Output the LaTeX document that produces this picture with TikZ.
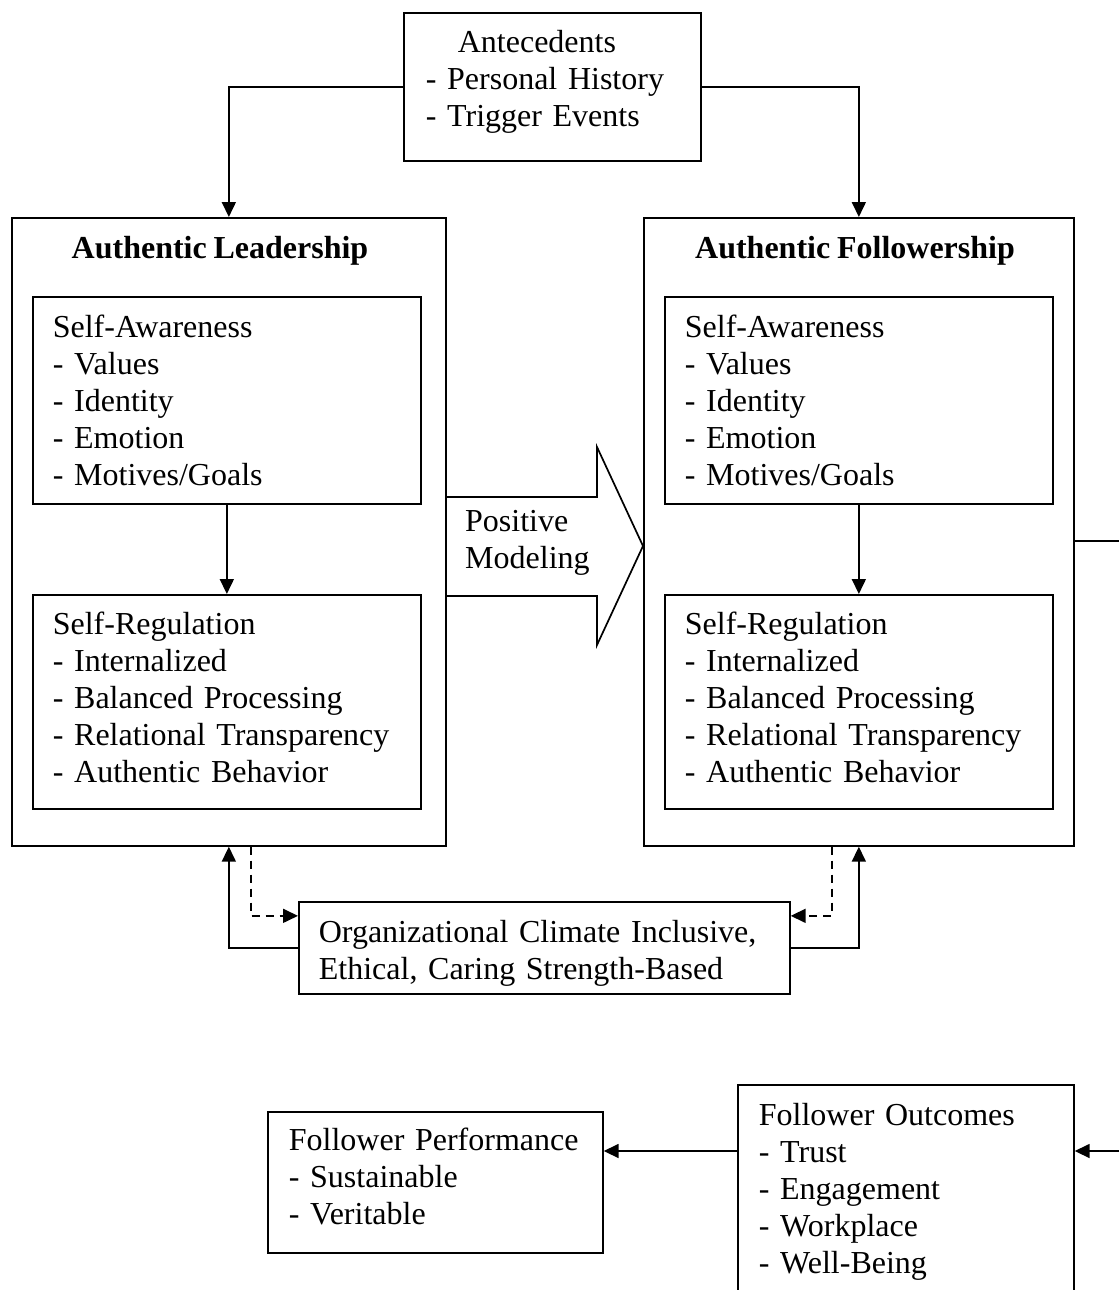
\documentclass[tikz,border=0pt]{standalone}
\usepackage{fontspec}
\setmainfont{Liberation Serif}[WordSpace={0.85,0,0}]
\usetikzlibrary{arrows.meta}
\newcommand{\lowend}[1]{\rule[-#1]{0pt}{1pt}}
\begin{document}
\begin{tikzpicture}[x=1pt,y=-1pt,
  txt/.style={font=\fontsize{32}{37}\selectfont},
  frame/.style={draw,line width=1.7pt,rectangle,anchor=north west,inner ysep=0pt},
  listbox/.style={frame,txt,align=left,inner xsep=#1},
  heading/.style={font=\fontsize{32}{37}\selectfont\bfseries},
  link/.style={line width=1.7pt},
  arr/.style={link,-{Triangle[length=15pt,width=14pt]}},
  dlink/.style={arr,dash pattern=on 8pt off 6pt}]
\useasboundingbox (0,0) rectangle (1119,1290);
\clip (0,0) rectangle (1119,1290);

% antecedents
\node[listbox=22pt,text width=253pt,minimum height=148pt] (ante) at (403,12)
  {\hspace*{32pt}Antecedents\\- Personal History\\- Trigger Events\lowend{16pt}};

% authentic leadership
\node[frame,minimum width=434pt,minimum height=628pt] (lead) at (11,217) {};
\node[heading] (leadT) at (220,251) {Authentic Leadership};
\node[listbox=20pt,text width=348pt,minimum height=207pt] (lsa) at (32,296)
  {Self-Awareness\\- Values\\- Identity\\- Emotion\\- Motives/Goals};
\node[listbox=20pt,text width=348pt,minimum height=214pt] (lsr) at (32,594)
  {Self-Regulation\\- Internalized\\- Balanced Processing\\- Relational Transparency\\- Authentic Behavior\lowend{10pt}};

% authentic followership
\node[frame,minimum width=430pt,minimum height=628pt] (foll) at (643,217) {};
\node[heading] (follT) at (855,251) {Authentic Followership};
\node[listbox=20pt,text width=348pt,minimum height=207pt] (fsa) at (664,296)
  {Self-Awareness\\- Values\\- Identity\\- Emotion\\- Motives/Goals};
\node[listbox=20pt,text width=348pt,minimum height=214pt] (fsr) at (664,594)
  {Self-Regulation\\- Internalized\\- Balanced Processing\\- Relational Transparency\\- Authentic Behavior\lowend{10pt}};

% positive modeling block arrow
\draw[link,line join=miter] (lead.east |- 0,497) -- (597,497) -- (597,447) -- (foll.west |- 0,546)
  -- (597,645) -- (597,596) -- (lead.east |- 0,596);
\node[txt,align=left,anchor=west,inner sep=0pt] (model) at (465,543) {Positive\\Modeling};

% organizational climate
\node[listbox=20pt,text width=451pt,minimum height=92pt] (org) at (298,901)
  {\rule{0pt}{33pt}Organizational Climate Inclusive,\\Ethical, Caring Strength-Based};

% outcomes
\node[listbox=21pt,text width=293pt,minimum height=141pt] (perf) at (267,1111)
  {Follower Performance\\- Sustainable\\- Veritable\lowend{12pt}};
\node[listbox=21pt,text width=294pt,minimum height=214pt] (outc) at (737,1084)
  {Follower Outcomes\\- Trust\\- Engagement\\- Workplace\\- Well-Being};

\coordinate (rimA) at (1119,541);
\coordinate (rimB) at (1119,1151);

% connectors
\draw[arr] (ante.west) -| (lead.north);
\draw[arr] (ante.east) -| (foll.north);
\draw[arr] (lsa.south) -- (lsr.north);
\draw[arr] (fsa.south) -- (fsr.north);
\draw[arr] (org.west) -| (lead.south);
\draw[dlink] ([xshift=22pt]lead.south) |- ([yshift=32pt]org.west);
\draw[arr] (org.east) -| (foll.south);
\draw[dlink] ([xshift=-27pt]foll.south) |- ([yshift=32pt]org.east);
\draw[link] (foll.east |- rimA) -- (rimA);
\draw[arr] (rimB) -- (rimB -| outc.east);
\draw[arr] (outc.west |- rimB) -- (perf.east |- rimB);
\end{tikzpicture}
\end{document}
